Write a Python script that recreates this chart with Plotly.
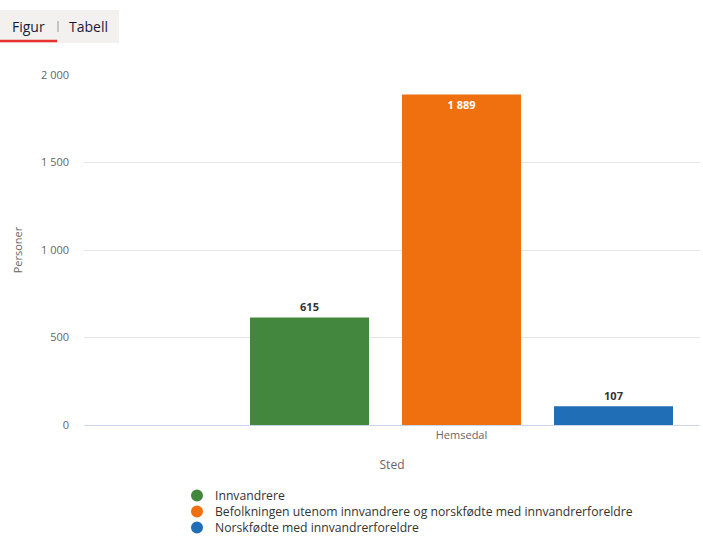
import plotly.graph_objects as go

# Data
steder = ["Hemsedal"]
serier = [
    "Innvandrere",
    "Befolkningen utenom innvandrere og norskfødte med innvandrerforeldre",
    "Norskfødte med innvandrerforeldre",
]
verdier = [615, 1889, 107]
farger = ["#43873f", "#f0700f", "#1f6eb6"]
y_ticks = [0, 500, 1000, 1500, 2000]

W, H = 703, 538
L, R, T, B = 84, 3, 75, 113
PW, PH = W - L - R, H - T - B


def px_x(x):
    return (x - L) / PW


def px_y(y):
    return (H - B - y) / PH


fig = go.Figure()

for navn, v, c in zip(serier, verdier, farger):
    inside = v > 1500
    fig.add_trace(go.Bar(
        x=steder, y=[v], name=navn, marker=dict(color=c, line=dict(width=0)),
        showlegend=False,
        texttemplate="%{y:,.0f}",
        textposition="inside" if inside else "outside",
        insidetextanchor="end",
        textangle=0,
        textfont=dict(family="Open Sans, sans-serif", size=11,
                      color="#ffffff" if inside else "#333333", weight="bold"),
        cliponaxis=False,
    ))

fig.update_layout(
    width=W, height=H,
    margin=dict(l=L, r=R, t=T, b=B, pad=0, autoexpand=False),
    paper_bgcolor="white", plot_bgcolor="white",
    separators=", ",
    barmode="group", bargap=0.2, bargroupgap=0.217,
    font=dict(family="Open Sans, sans-serif", size=11, color="#666666"),
    uniformtext=dict(minsize=8, mode="show"),
    showlegend=False,
    xaxis=dict(
        type="category", automargin=False,
        range=[(L - 461.5) / 570, (W - R - 461.5) / 570],
        showgrid=False, zeroline=False,
        showline=True, linecolor="#ccd6eb", linewidth=1,
        ticks="", tickfont=dict(size=11, color="#666666"),
        title=dict(text="Sted", standoff=19, font=dict(size=12, color="#666666")),
        fixedrange=True,
    ),
    yaxis=dict(
        range=[0, 2000], tickvals=y_ticks, tickformat=",d", automargin=False,
        showgrid=True, gridcolor="#e6e6e6", gridwidth=1,
        zeroline=False, showline=False, ticks="",
        ticklabelstandoff=14,
        tickfont=dict(size=11, color="#666666"),
        title=dict(text="Personer", standoff=16, font=dict(size=11, color="#666666")),
        fixedrange=True,
    ),
)

# Legend: round markers plus one multi-line block of series names
legend_rows = [495.5, 511.5, 527.5]
for c, yy in zip(farger, legend_rows):
    fig.add_shape(type="circle", xref="paper", yref="paper",
                  x0=px_x(191), x1=px_x(203), y0=px_y(yy + 6), y1=px_y(yy - 6),
                  fillcolor=c, line=dict(width=0))
fig.add_annotation(xref="paper", yref="paper", x=px_x(213), y=px_y(537.5),
                   text="<br>".join(serier), showarrow=False,
                   xanchor="left", yanchor="bottom", align="left",
                   font=dict(size=12.2, color="#333333"))

# Tab bar "Figur | Tabell" at the top
fig.add_shape(type="rect", xref="paper", yref="paper",
              x0=px_x(0), x1=px_x(119), y0=px_y(43), y1=px_y(10),
              fillcolor="#f2f1ef", line=dict(width=0), layer="below")
fig.add_shape(type="line", xref="paper", yref="paper",
              x0=px_x(0), x1=px_x(57), y0=px_y(41), y1=px_y(41),
              line=dict(color="#e5322d", width=2.5))
fig.add_shape(type="line", xref="paper", yref="paper",
              x0=px_x(58), x1=px_x(58), y0=px_y(32), y1=px_y(21),
              line=dict(color="#999999", width=1))
fig.add_annotation(xref="paper", yref="paper", x=px_x(28), y=px_y(26),
                   text="Figur", showarrow=False, xanchor="center", yanchor="middle",
                   font=dict(size=14, color="#1a1a3a"))
fig.add_annotation(xref="paper", yref="paper", x=px_x(88), y=px_y(26),
                   text="Tabell", showarrow=False, xanchor="center", yanchor="middle",
                   font=dict(size=14, color="#1a1a3a"))

fig.write_html("out.html")
